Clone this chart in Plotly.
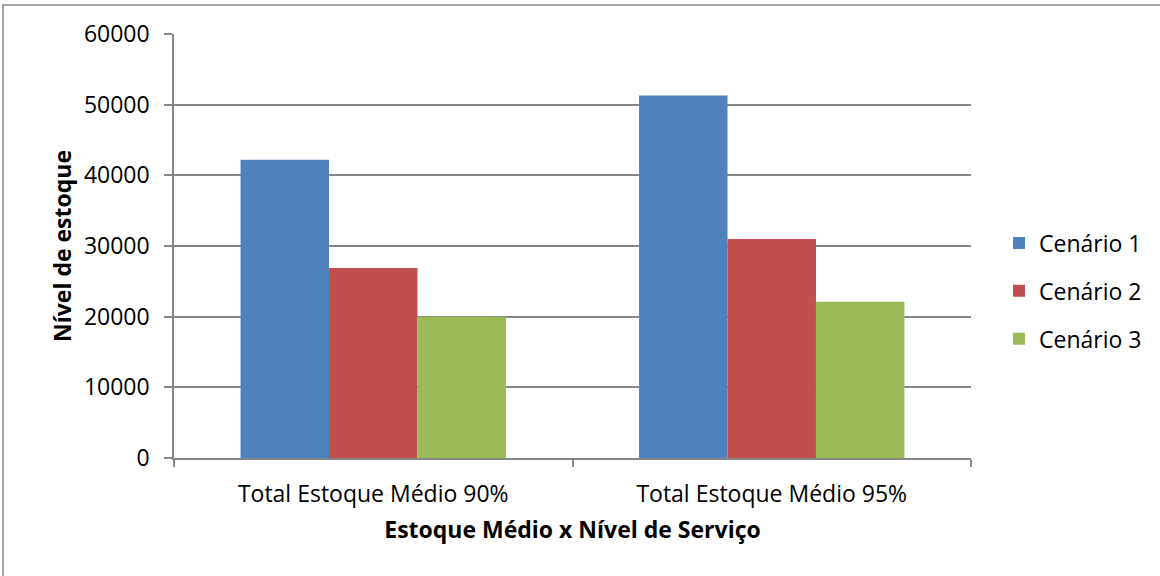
import plotly.graph_objects as go

categories = ["Total Estoque Médio 90%", "Total Estoque Médio 95%"]
series_names = ["Cenário 1", "Cenário 2", "Cenário 3"]
cenario1 = [42200, 51300]
cenario2 = [26900, 31000]
cenario3 = [20000, 22100]
colors = ["#4F81BD", "#C0504D", "#9BBB59"]
y_ticks = [0, 10000, 20000, 30000, 40000, 50000, 60000]

FONT = "'Open Sans', sans-serif"
FS = 23

fig = go.Figure()
for name, vals, col in zip(series_names, [cenario1, cenario2, cenario3], colors):
    fig.add_trace(go.Bar(name=name, x=categories, y=vals, legendgroup=name,
                         marker=dict(color=col, line=dict(width=0))))

W, H = 1160, 576
L, R, T, B = 174, 189, 34, 118
pw, ph = W - L - R, H - T - B

fig.update_layout(
    width=W, height=H,
    margin=dict(l=L, r=R, t=T, b=B, autoexpand=False),
    paper_bgcolor="white", plot_bgcolor="white",
    barmode="group", bargap=0.334, bargroupgap=0,
    font=dict(family=FONT, size=FS, color="black"),
    showlegend=True,
    legend=dict(x=(999 - L) / pw, y=(458 - 291) / ph, xanchor="left", yanchor="middle",
                font=dict(size=FS), tracegroupgap=15, itemwidth=30, traceorder="grouped",
                bgcolor="rgba(0,0,0,0)"),
    xaxis=dict(showline=True, linecolor="#868686", linewidth=1.5, ticks="outside",
               tickson="boundaries", ticklen=7, tickcolor="#868686", tickwidth=1.5,
               tickfont=dict(size=FS), showgrid=False, ticklabelstandoff=15,
               title=dict(text="<b>Estoque Médio x Nível de Serviço</b>", font=dict(size=FS), standoff=14)),
    yaxis=dict(range=[0, 60000], tickvals=y_ticks, tickformat="d", showline=True,
               linecolor="#868686", linewidth=1.5,
               ticks="outside", ticklen=8, tickcolor="#868686", tickwidth=1.5,
               showgrid=True, gridcolor="#868686", gridwidth=1.5, zeroline=False,
               tickfont=dict(size=FS), ticklabelstandoff=10,
               title=dict(text="<b>Nível de estoque</b>", font=dict(size=FS), standoff=6)),
    shapes=[dict(type="rect", xref="paper", yref="paper",
                 x0=(3 - L) / pw, x1=(1170 - L) / pw,
                 y0=(458 - 590) / ph, y1=(458 - 5) / ph,
                 line=dict(color="#888888", width=1.5), fillcolor="rgba(0,0,0,0)", layer="below")],
)

fig.write_html("out.html", config={"displayModeBar": False},
               post_script="document.body.style.margin='0';document.body.style.padding='0';")
